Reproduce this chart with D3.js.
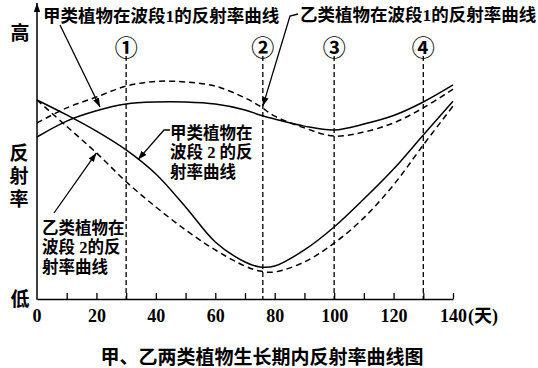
<!DOCTYPE html>
<html>
<head>
<meta charset="utf-8">
<script src="https://cdn.jsdelivr.net/npm/d3@7"></script>
<style>
  body { margin: 0; background: #fff; }
  svg { display: block; }
</style>
</head>
<body>
<svg class="chart"></svg>
<script>
var width = 538, height = 368;

// growth days
const days     = [0, 10, 20, 30, 40, 50, 60, 70, 75, 80, 90, 100, 110, 120, 130, 140];
// reflectance (0 = 低, 100 = 高)
const jiaBand1 = [55.1, 60.5, 64.0, 66.3, 67.0, 67.0, 66.3, 64.3, 62.6, 61.2, 58.8, 57.5, 59.5, 62.4, 67.0, 72.8];
const yiBand1  = [59.9, 65.0, 68.7, 72.4, 74.0, 73.8, 72.4, 68.4, 65.6, 62.2, 58.2, 55.4, 56.8, 59.9, 65.0, 71.4];
const jiaBand2 = [67.7, 62.6, 57.1, 50.7, 42.5, 31.3, 19.4, 12.6, 10.9, 11.2, 16.7, 24.5, 34.0, 44.2, 55.8, 67.3];
const yiBand2  = [67.7, 58.7, 49.7, 39.9, 31.3, 23.5, 16.7, 11.2,  9.5,  9.2, 12.6, 19.0, 27.6, 38.8, 52.4, 65.6];

const markDays   = [30, 76, 100, 130];
const markLabels = ["①", "②", "③", "④"];

const xTickValues = [10, 20, 30, 40, 50, 60, 70, 80, 90, 100, 110, 120, 130, 140];
const xLabelValues = [0, 20, 40, 60, 80, 100, 120, 140];

const title = "甲、乙两类植物生长期内反射率曲线图";
const yTop = "高", yBottom = "低", yName = "反射率";

const cjk = "'Liberation Serif', 'Noto Sans CJK SC', serif";

var svg = d3.select("svg.chart")
  .attr("width", width)
  .attr("height", height)
  .style("background", "#fff");

const x = d3.scaleLinear().domain([0, 140]).range([37, 453]);
const y = d3.scaleLinear().domain([0, 100]).range([299, 5]);

const defs = svg.append("defs");
defs.append("marker")
  .attr("id", "arrow")
  .attr("markerUnits", "userSpaceOnUse")
  .attr("viewBox", "0 -4 9 8")
  .attr("markerWidth", 9).attr("markerHeight", 8)
  .attr("refX", 9).attr("refY", 0)
  .attr("orient", "auto")
  .append("path").attr("d", "M0,-3.2L9,0L0,3.2Z").attr("fill", "#000");

// vertical dashed markers
const marks = svg.append("g");
marks.selectAll("line")
  .data(markDays)
  .join("line")
    .attr("x1", d => x(d)).attr("x2", d => x(d))
    .attr("y1", 56).attr("y2", y(0))
    .attr("stroke", "#000")
    .attr("stroke-width", 1.3)
    .attr("stroke-dasharray", "5,3");
marks.selectAll("text")
  .data(markDays)
  .join("text")
    .attr("x", d => x(d))
    .attr("y", 46)
    .attr("text-anchor", "middle")
    .attr("dominant-baseline", "central")
    .style("font-family", "'Noto Sans CJK SC', 'DejaVu Sans'")
    .style("font-size", "23px")
    .style("font-weight", "bold")
    .text((d, i) => markLabels[i]);

// curves
const line = d3.line()
  .x((d, i) => x(days[i]))
  .y(d => y(d))
  .curve(d3.curveCatmullRom.alpha(0.5));

const series = [
  {values: jiaBand1, dash: null},
  {values: yiBand1,  dash: "6,4"},
  {values: jiaBand2, dash: null},
  {values: yiBand2,  dash: "6,4"}
];

svg.append("g").selectAll("path")
  .data(series)
  .join("path")
    .attr("d", d => line(d.values))
    .attr("fill", "none")
    .attr("stroke", "#000")
    .attr("stroke-width", 1.5)
    .attr("stroke-dasharray", d => d.dash);

// axes
const xAxis = d3.axisBottom(x)
  .tickValues(xTickValues)
  .tickSizeInner(-6)
  .tickSizeOuter(0)
  .tickPadding(10)
  .tickFormat(d => xLabelValues.includes(d) ? d : "");

const gx = svg.append("g")
  .attr("transform", `translate(0,${y(0)})`)
  .call(xAxis);
gx.select(".domain").attr("stroke-width", 1.5);
gx.selectAll(".tick line").attr("stroke-width", 1.3);
gx.selectAll(".tick text")
  .style("font-family", "'Liberation Serif', serif")
  .style("font-size", "18px")
  .style("font-weight", "bold")
  .attr("fill", "#000");
gx.append("text")
  .attr("x", x(0))
  .attr("y", 10)
  .attr("dy", "0.71em")
  .attr("text-anchor", "middle")
  .attr("fill", "#000")
  .style("font-family", "'Liberation Serif', serif")
  .style("font-size", "18px")
  .style("font-weight", "bold")
  .text(0);
gx.append("text")
  .attr("x", x(140) + 15)
  .attr("y", 10)
  .attr("dy", "0.71em")
  .attr("text-anchor", "start")
  .attr("fill", "#000")
  .style("font-family", cjk)
  .style("font-size", "18px")
  .style("font-weight", "bold")
  .text("(天)");

svg.append("line")
  .attr("x1", x(0)).attr("x2", x(0))
  .attr("y1", y(0) + 0.7).attr("y2", 3)
  .attr("stroke", "#000")
  .attr("stroke-width", 1.5)
  .attr("marker-end", "url(#arrow)");

// y labels
const yl = svg.append("g")
  .style("font-family", "'Noto Sans CJK SC'")
  .style("font-size", "19px")
  .style("font-weight", "bold")
  .attr("text-anchor", "middle")
  .attr("dominant-baseline", "central");
yl.append("text").attr("x", 20).attr("y", 31).text(yTop);
yl.append("text").attr("x", 20).attr("y", 297).text(yBottom);
yl.append("text")
  .attr("x", 19)
  .attr("y", 178)
  .attr("dominant-baseline", null)
  .style("writing-mode", "vertical-rl")
  .style("letter-spacing", "4px")
  .text(yName);

// annotations
function valueAt(vals, day) {
  const i = d3.bisectRight(days, day) - 1;
  const t = (day - days[i]) / (days[i + 1] - days[i]);
  return vals[i] + t * (vals[i + 1] - vals[i]);
}

const notes = [
  {lines: ["甲类植物在波段1的反射率曲线"], tx: 43, ty: 16, size: 17.5,
   from: [[60, 25]], vals: jiaBand1, day: 21.2, off: -3},
  {lines: ["乙类植物在波段1的反射率曲线"], tx: 300, ty: 15, size: 17.5,
   from: [[298, 14], [290, 16]], vals: yiBand1, day: 76, off: -2},
  {lines: ["甲类植物在", "波段 2 的反", "射率曲线"], tx: 170, ty: 133, size: 16.5,
   from: [[170, 130], [164, 130]], vals: jiaBand2, day: 34, off: 0},
  {lines: ["乙类植物在", "波段 2的反", "射率曲线"], tx: 42, ty: 228, size: 16.5,
   from: [[54, 213]], vals: yiBand2, day: 20, off: 0}
];

const ng = svg.append("g");
notes.forEach(n => {
  const tip = [x(n.day), y(valueAt(n.vals, n.day)) + n.off];
  ng.append("path")
    .attr("d", d3.line()(n.from.concat([tip])))
    .attr("fill", "none")
    .attr("stroke", "#000")
    .attr("stroke-width", 1.3)
    .attr("marker-end", "url(#arrow)");
  ng.append("g").selectAll("text")
    .data(n.lines)
    .join("text")
      .attr("x", n.tx)
      .attr("y", (d, i) => n.ty + i * 19.5)
      .attr("dominant-baseline", "central")
      .style("font-family", cjk)
      .style("font-size", n.size + "px")
      .style("font-weight", "bold")
      .text(d => d);
});

svg.append("text")
  .attr("x", 262)
  .attr("y", 355)
  .attr("text-anchor", "middle")
  .attr("dominant-baseline", "central")
  .style("font-family", "'Noto Sans CJK SC'")
  .style("font-size", "19px")
  .style("font-weight", "bold")
  .text(title);
</script>
</body>
</html>
